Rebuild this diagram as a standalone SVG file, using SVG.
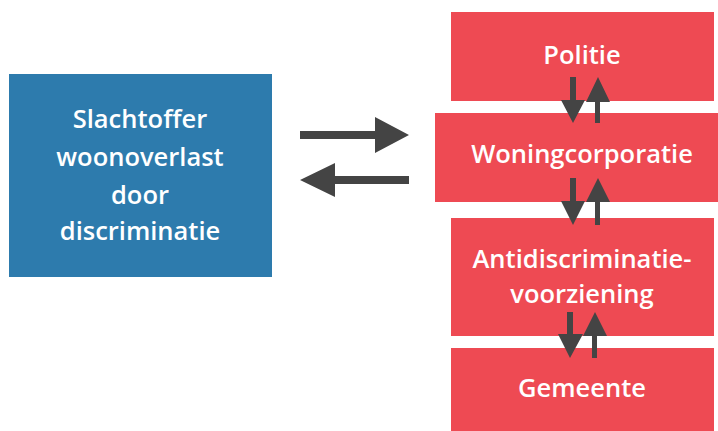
<svg xmlns="http://www.w3.org/2000/svg" width="718" height="431" viewBox="0 0 718 431">
<style>
.blue{fill:#2D7BAD}
.red{fill:#EE4A53}
.t{font-family:"Open Sans",Lato,sans-serif;font-weight:600;font-size:25.5px;fill:#fff;text-anchor:middle;font-variant-ligatures:none}
.a{fill:#444}
</style>
<rect width="718" height="431" fill="#fff"/>
<g id="victim">
<rect class="blue" x="9" y="74" width="263" height="203"/>
<text class="t" x="140" y="128">Slachtoffer</text>
<text class="t" x="140" y="166">woonoverlast</text>
<text class="t" x="140" y="204">door</text>
<text class="t" x="140" y="240">discriminatie</text>
</g>
<g id="politie">
<rect class="red" x="451" y="12" width="263" height="89"/>
<text class="t" x="582" y="64">Politie</text>
</g>
<g id="woningcorporatie">
<rect class="red" x="435" y="113" width="283" height="89"/>
<text class="t" x="582" y="163">Woningcorporatie</text>
</g>
<g id="antidiscriminatie">
<rect class="red" x="451" y="218" width="263" height="118"/>
<text class="t" x="582" y="268">Antidiscriminatie-</text>
<text class="t" x="582" y="303">voorziening</text>
</g>
<g id="gemeente">
<rect class="red" x="451" y="348" width="263" height="90"/>
<text class="t" x="582" y="397">Gemeente</text>
</g>
<g id="connectors">
<polygon class="a" points="300,131 375,131 375,117 409,135 375,153 375,139 300,139"/>
<polygon class="a" points="409,176 335,176 335,163 300,180 335,197 335,184 409,184"/>
<polygon class="a" points="570,77 576,77 576,100 585,100 573,123 561,100 570,100"/>
<polygon class="a" points="595,123 600,123 600,102 610,102 598,77 586,102 595,102"/>
<polygon class="a" points="570,178 576,178 576,201 585,201 573,225 561,201 570,201"/>
<polygon class="a" points="595,225 600,225 600,202 610,202 598,178 586,202 595,202"/>
<polygon class="a" points="567,312 573,312 573,334 583,334 570,358 558,334 567,334"/>
<polygon class="a" points="592,358 597,358 597,336 607,336 595,312 583,336 592,336"/>
</g>
</svg>
